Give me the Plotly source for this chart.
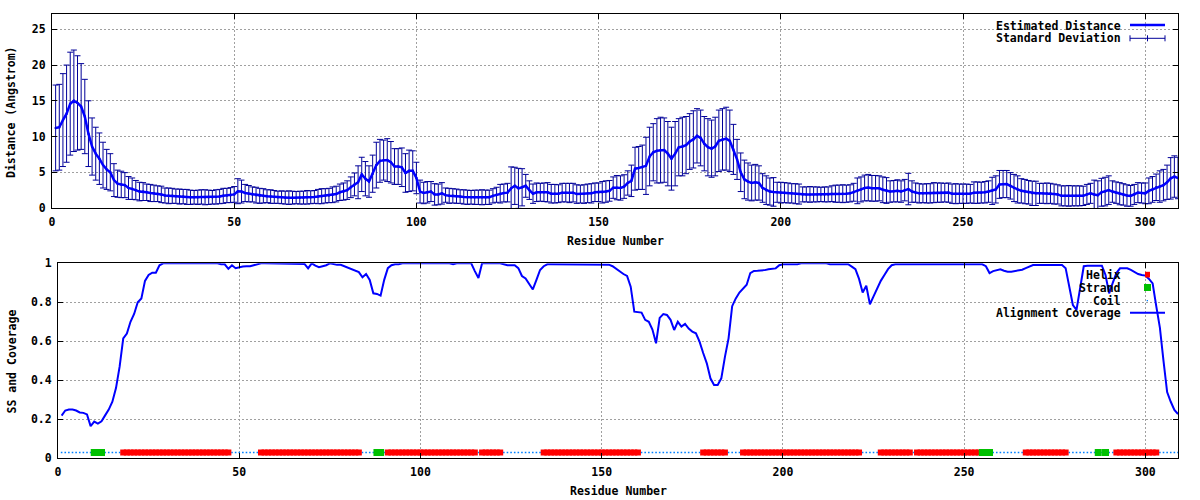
import plotly.graph_objects as go

# ---------------- data ----------------
residues = list(range(1, 310))

distance = [
    11.2, 11.3, 12.3, 13.2, 14.6, 15.0, 14.7, 14.2, 12.8, 10.4,
    8.6, 7.6, 6.9, 6.0, 5.4, 5.0, 3.9, 3.4, 3.3, 3.2,
    2.8, 2.7, 2.5, 2.3, 2.3, 2.2, 2.1, 2.05, 2.0, 1.9,
    1.75, 1.7, 1.7, 1.65, 1.6, 1.6, 1.55, 1.5, 1.5, 1.5,
    1.55, 1.5, 1.5, 1.5, 1.55, 1.6, 1.7, 1.75, 1.8, 1.9,
    2.35, 2.3, 2.1, 2.0, 1.9, 1.8, 1.7, 1.7, 1.65, 1.6,
    1.55, 1.5, 1.5, 1.45, 1.45, 1.45, 1.45, 1.45, 1.45, 1.5,
    1.5, 1.55, 1.6, 1.65, 1.7, 1.75, 1.85, 1.95, 2.2, 2.3,
    2.5, 2.9, 3.3, 3.6, 4.7, 4.1, 3.7, 4.8, 6.0, 6.6,
    6.7, 6.7, 6.4, 5.8, 5.8, 5.7, 4.9, 5.2, 5.2, 4.2,
    2.3, 2.1, 2.2, 2.3, 1.9, 1.9, 2.05, 1.8, 1.7, 1.7,
    1.65, 1.6, 1.55, 1.5, 1.5, 1.5, 1.5, 1.5, 1.5, 1.5,
    1.7, 1.85, 2.0, 2.1, 2.15, 2.75, 3.1, 2.75, 2.9, 3.1,
    2.5, 2.0, 2.2, 2.2, 2.2, 2.2, 2.0, 2.0, 2.0, 2.15,
    2.15, 2.1, 2.15, 1.95, 1.95, 1.95, 2.05, 2.05, 2.2, 2.2,
    2.2, 2.3, 2.4, 2.85, 2.85, 2.8, 3.0, 3.5, 3.8, 5.5,
    5.6, 5.7, 5.9, 7.2, 7.8, 8.0, 8.1, 8.1, 7.6, 6.9,
    7.6, 8.5, 8.6, 8.8, 9.3, 9.6, 10.1, 9.8, 9.0, 8.5,
    8.3, 8.6, 9.4, 9.6, 9.7, 9.4, 8.2, 6.8, 5.0, 4.0,
    3.7, 3.5, 3.6, 3.5, 2.8, 2.5, 2.3, 2.25, 2.2, 2.15,
    2.15, 2.1, 2.05, 2.0, 1.95, 1.9, 1.9, 1.9, 1.9, 1.9,
    1.9, 1.9, 1.9, 2.0, 2.0, 2.0, 2.0, 2.0, 2.05, 2.2,
    2.4, 2.6, 2.8, 2.85, 2.75, 2.75, 2.75, 2.55, 2.45, 2.3,
    2.35, 2.4, 2.3, 2.5, 2.65, 2.3, 2.15, 2.05, 2.05, 2.05,
    2.05, 2.15, 2.15, 2.15, 2.15, 2.15, 2.0, 2.0, 2.0, 2.0,
    2.0, 2.0, 2.15, 2.15, 2.15, 2.2, 2.3, 2.4, 2.6, 3.3,
    3.35, 3.35, 3.1, 2.8, 2.6, 2.4, 2.3, 2.2, 2.05, 2.05,
    2.05, 2.05, 2.05, 2.05, 1.95, 1.9, 1.7, 1.7, 1.7, 1.7,
    1.7, 1.7, 1.7, 1.9, 2.05, 1.9, 1.8, 2.2, 2.3, 2.5,
    2.3, 2.15, 2.0, 1.9, 1.75, 1.7, 1.9, 2.15, 2.1, 2.05,
    2.4, 2.6, 2.9, 3.0, 3.2, 3.6, 4.15, 4.4, 4.2,
]

std_dev = [
    6.0, 6.0, 6.5, 6.8, 7.2, 7.1, 6.6, 6.0, 5.2, 4.6,
    4.0, 3.7, 3.6, 3.2, 2.8, 2.6, 2.3, 1.9, 1.85, 1.75,
    1.6, 1.5, 1.35, 1.3, 1.25, 1.15, 1.2, 1.15, 1.1, 1.15,
    1.05, 1.1, 1.05, 1.0, 1.05, 1.0, 1.05, 1.0, 0.95, 1.0,
    1.0, 1.05, 1.0, 0.95, 1.0, 1.0, 1.05, 1.0, 1.05, 1.1,
    1.75, 1.6, 1.2, 1.15, 1.05, 1.1, 1.05, 1.0, 0.9, 0.95,
    0.9, 0.85, 0.9, 0.9, 0.95, 0.9, 0.85, 0.9, 0.9, 0.95,
    0.9, 0.9, 1.0, 1.05, 1.0, 1.0, 1.1, 1.1, 1.15, 1.2,
    1.3, 1.45, 1.6, 2.3, 2.4, 2.4, 2.2, 2.6, 3.2, 3.0,
    2.8, 3.0, 2.9, 2.5, 2.5, 2.7, 2.7, 2.9, 2.8, 2.2,
    1.6, 1.5, 1.5, 1.4, 1.5, 1.45, 1.5, 1.0, 1.05, 1.0,
    1.0, 0.95, 1.0, 1.0, 0.95, 1.0, 1.0, 1.05, 1.0, 1.0,
    1.0, 1.05, 1.3, 1.25, 1.3, 3.0, 2.6, 2.8, 2.6, 1.6,
    1.3, 1.35, 1.3, 1.25, 1.3, 1.35, 1.3, 1.3, 1.25, 1.3,
    1.3, 1.35, 1.3, 1.3, 1.25, 1.3, 1.3, 1.35, 1.3, 1.3,
    1.5, 1.5, 1.45, 1.5, 1.7, 1.7, 1.65, 1.7, 2.2, 3.0,
    3.0, 3.1, 4.0, 4.1, 4.0, 4.5, 4.6, 4.5, 4.5, 4.4,
    4.5, 4.0, 4.1, 4.0, 3.9, 4.0, 3.8, 3.9, 3.8, 4.0,
    4.0, 4.1, 4.3, 4.3, 4.4, 4.3, 3.5, 2.8, 2.7, 2.7,
    2.6, 2.5, 2.5, 2.4, 2.0, 2.0, 1.9, 2.0, 1.4, 1.45,
    1.4, 1.4, 1.35, 1.4, 1.4, 1.05, 1.05, 1.1, 1.05, 1.05,
    1.0, 1.05, 1.05, 1.1, 1.2, 1.2, 1.25, 1.2, 1.2, 1.25,
    1.8, 1.75, 1.8, 1.85, 1.8, 1.8, 1.75, 1.8, 1.8, 1.5,
    1.5, 1.55, 1.5, 1.5, 2.2, 1.5, 1.35, 1.35, 1.3, 1.35,
    1.35, 1.4, 1.35, 1.35, 1.3, 1.35, 1.35, 1.4, 1.35, 1.35,
    1.35, 1.3, 1.5, 1.5, 1.45, 1.5, 1.5, 1.9, 1.9, 1.95,
    1.9, 1.9, 1.85, 1.9, 1.9, 1.7, 1.7, 1.65, 1.7, 1.7,
    1.4, 1.4, 1.45, 1.4, 1.4, 1.35, 1.4, 1.4, 1.45, 1.4,
    1.4, 1.4, 1.35, 1.4, 1.4, 2.0, 2.0, 1.95, 2.0, 2.0,
    1.5, 1.5, 1.55, 1.5, 1.5, 1.45, 1.4, 1.4, 1.4, 1.45,
    1.8, 1.8, 1.85, 2.2, 2.2, 2.4, 2.9, 2.9, 2.9,
]

coverage = [
    0.219, 0.245, 0.25, 0.25, 0.245, 0.235, 0.233, 0.225, 0.165, 0.188,
    0.178, 0.19, 0.22, 0.25, 0.29, 0.36, 0.47, 0.615, 0.64, 0.70,
    0.74, 0.80, 0.82, 0.91, 0.94, 0.952, 0.952, 0.99, 1.0, 1.0,
    1.0, 1.0, 1.0, 1.0, 1.0, 1.0, 1.0, 1.0, 1.0, 1.0,
    1.0, 1.0, 1.0, 1.0, 0.995, 0.995, 0.972, 0.99, 0.975, 0.98,
    0.983, 0.985, 0.985, 0.99, 0.995, 1.0, 1.0, 1.0, 1.0, 1.0,
    1.0, 1.0, 1.0, 1.0, 1.0, 1.0, 1.0, 0.997, 0.974, 1.0,
    0.988, 0.98, 0.985, 0.99, 1.0, 0.995, 0.992, 0.992, 0.985, 0.975,
    0.972, 0.965, 0.955, 0.928, 0.945, 0.915, 0.846, 0.843, 0.834, 0.915,
    0.975, 0.99, 0.995, 0.995, 1.0, 1.0, 1.0, 1.0, 1.0, 1.0,
    1.0, 1.0, 1.0, 1.0, 1.0, 1.0, 1.0, 1.0, 0.995, 1.0,
    1.0, 1.0, 1.0, 1.0, 0.96, 0.925, 1.0, 1.0, 1.0, 1.0,
    1.0, 1.0, 0.995, 0.99, 0.99, 0.99, 0.975, 0.935, 0.922, 0.895,
    0.866, 0.915, 0.966, 0.985, 0.995, 0.995, 0.995, 0.995, 0.995, 0.995,
    0.995, 0.995, 0.995, 0.995, 0.995, 0.995, 0.995, 0.995, 0.995, 0.995,
    0.995, 0.993, 0.985, 0.97, 0.957, 0.945, 0.935, 0.88, 0.752, 0.748,
    0.747, 0.71, 0.70, 0.66, 0.59, 0.72, 0.74, 0.735, 0.71, 0.658,
    0.70, 0.675, 0.689, 0.665, 0.65, 0.641, 0.598, 0.54, 0.487, 0.41,
    0.376, 0.376, 0.41, 0.52, 0.615, 0.78, 0.82, 0.85, 0.872, 0.89,
    0.95, 0.961, 0.962, 0.962, 0.965, 0.969, 0.97, 0.974, 0.99, 0.995,
    0.995, 0.995, 0.995, 0.995, 1.0, 1.0, 1.0, 1.0, 1.0, 1.0,
    1.0, 1.0, 0.995, 0.995, 0.995, 0.995, 0.995, 0.995, 0.983, 0.97,
    0.92, 0.85, 0.885, 0.79, 0.83, 0.87, 0.91, 0.94, 0.97, 0.99,
    0.995, 0.995, 0.995, 0.995, 0.995, 0.995, 0.995, 0.995, 0.995, 0.995,
    0.995, 0.995, 0.995, 0.995, 0.995, 0.995, 0.995, 0.995, 0.995, 0.995,
    0.995, 0.995, 0.995, 0.995, 0.995, 0.985, 0.95, 0.96, 0.965, 0.969,
    0.962, 0.957, 0.957, 0.96, 0.962, 0.967, 0.975, 0.985, 0.991, 0.991,
    0.991, 0.991, 0.991, 0.991, 0.991, 0.991, 0.991, 0.975, 0.88, 0.786,
    0.761, 0.87, 0.985, 0.988, 0.988, 0.988, 0.988, 0.988, 0.94, 0.846,
    0.9, 0.95, 0.974, 0.974, 0.974, 0.966, 0.955, 0.945, 0.94, 0.937,
    0.92, 0.897, 0.78, 0.67, 0.5, 0.34, 0.29, 0.248, 0.227,
]

# secondary structure per residue, run-length encoded (H helix, E strand, C coil)
ss_runs = [
    ("C", 9), ("E", 3), ("C", 5), ("H", 30), ("C", 8), ("H", 28), ("C", 4),
    ("E", 2), ("C", 1), ("H", 25), ("C", 1), ("H", 6), ("C", 11), ("H", 27),
    ("C", 17), ("H", 7), ("C", 4), ("H", 33), ("C", 5), ("H", 9), ("C", 1),
    ("H", 18), ("E", 3), ("C", 9), ("H", 12), ("C", 8), ("E", 1), ("C", 1),
    ("E", 1), ("C", 2), ("H", 12), ("C", 6),
]
ss_level = 0.03

x_ticks = [0, 50, 100, 150, 200, 250, 300]
dist_ticks = [0, 5, 10, 15, 20, 25]
cov_ticks = [0, 0.2, 0.4, 0.6, 0.8, 1]
cov_tick_text = ["0", "0.2", "0.4", "0.6", "0.8", "1"]

# ---------------- figure ----------------
ss_string = "".join(c * n for c, n in ss_runs)
helix_x = [r for r, s in zip(residues, ss_string) if s == "H"]
strand_x = [r for r, s in zip(residues, ss_string) if s == "E"]
coil_x = [r for r, s in zip(residues, ss_string) if s == "C"]

W, H = 1200, 500
def px(v):
    return v / W
def py(v):
    return 1 - v / H

FONT = "DejaVu Sans Mono"
tickfont = dict(family=FONT, size=11.5, color="black", weight="bold")
ERR_C = "#000099"
BLUE = "#0000ff"

fig = go.Figure()
fig.add_trace(go.Scatter(
    x=residues, y=distance, mode="markers",
    marker=dict(size=2, color=ERR_C, symbol="square"),
    error_y=dict(type="data", array=std_dev, visible=True, color=ERR_C,
                 thickness=1, width=3),
    xaxis="x", yaxis="y", hoverinfo="skip"))
fig.add_trace(go.Scatter(
    x=residues, y=distance, mode="lines",
    line=dict(color=BLUE, width=2.5), xaxis="x", yaxis="y"))

fig.add_trace(go.Scatter(
    x=coil_x, y=[ss_level] * len(coil_x), mode="markers",
    marker=dict(symbol="square", size=1.6, color="#0080ff", line=dict(width=0)),
    xaxis="x2", yaxis="y2"))
fig.add_trace(go.Scatter(
    x=helix_x, y=[ss_level] * len(helix_x), mode="markers",
    marker=dict(symbol="square", size=6, color="#ff0000", line=dict(width=0)),
    xaxis="x2", yaxis="y2"))
fig.add_trace(go.Scatter(
    x=strand_x, y=[ss_level] * len(strand_x), mode="markers",
    marker=dict(symbol="square", size=7, color="#00c000", line=dict(width=0)),
    xaxis="x2", yaxis="y2"))
fig.add_trace(go.Scatter(
    x=residues, y=coverage, mode="lines",
    line=dict(color=BLUE, width=2), xaxis="x2", yaxis="y2"))

axis_common = dict(
    showline=True, linecolor="black", linewidth=1, mirror="ticks",
    ticks="inside", ticklen=5, tickcolor="black", tickwidth=1,
    showgrid=True, gridcolor="#a0a0a0", griddash="2px,2px", gridwidth=1,
    zeroline=False, tickfont=tickfont, automargin=False,
)

fig.update_layout(
    width=W, height=H,
    margin=dict(l=0, r=0, t=0, b=0),
    paper_bgcolor="white", plot_bgcolor="white",
    showlegend=False,
    xaxis=dict(axis_common, domain=[px(52), px(1178)], range=[0, 309],
               tickvals=x_ticks, anchor="y", ticklabelstandoff=3),
    yaxis=dict(axis_common, domain=[py(208), py(14.3)], range=[0, 27.1],
               tickvals=dist_ticks, anchor="x", ticklabelstandoff=3),
    xaxis2=dict(axis_common, domain=[px(58), px(1178)], range=[0, 309],
                tickvals=x_ticks, anchor="y2", ticklabelstandoff=3),
    yaxis2=dict(axis_common, domain=[py(458.3), py(263.3)], range=[0, 1],
                tickvals=cov_ticks, ticktext=cov_tick_text, anchor="x2",
                ticklabelstandoff=3),
)

lab = dict(family=FONT, size=11.5, color="black", weight="bold")
annotations = [
    dict(text="Distance (Angstrom)", x=px(11), y=py(112), textangle=-90),
    dict(text="Residue Number", x=px(615), y=py(240.7)),
    dict(text="SS and Coverage", x=px(11), y=py(361.5), textangle=-90),
    dict(text="Residue Number", x=px(618), y=py(490.7)),
]
for a in annotations:
    a.update(xref="paper", yref="paper", showarrow=False, font=lab,
             xanchor="center", yanchor="middle")

legend_rows = [
    ("Estimated Distance", 25.7), ("Standard Deviation", 38.3),
    ("Helix", 275), ("Strand", 287.7), ("Coil", 300.7),
    ("Alignment Coverage", 313.3),
]
for txt, yy in legend_rows:
    annotations.append(dict(text=txt, x=px(1123), y=py(yy), xref="paper",
                            yref="paper", showarrow=False, font=lab,
                            xanchor="right", yanchor="middle"))
fig.update_layout(annotations=annotations)

shapes = [
    # clear the grid behind the key areas
    dict(type="rect", x0=px(995), x1=px(1172), y0=py(45), y1=py(16),
         fillcolor="white", line=dict(width=0), layer="between"),
    dict(type="rect", x0=px(995), x1=px(1172), y0=py(320), y1=py(265),
         fillcolor="white", line=dict(width=0), layer="between"),
    # key samples
    dict(type="line", x0=px(1130), x1=px(1165), y0=py(25), y1=py(25),
         line=dict(color=BLUE, width=2.5)),
    dict(type="line", x0=px(1130), x1=px(1165), y0=py(38.3), y1=py(38.3),
         line=dict(color=ERR_C, width=1)),
    dict(type="line", x0=px(1130), x1=px(1130), y0=py(35.3), y1=py(41.3),
         line=dict(color=ERR_C, width=1)),
    dict(type="line", x0=px(1165), x1=px(1165), y0=py(35.3), y1=py(41.3),
         line=dict(color=ERR_C, width=1)),
    dict(type="line", x0=px(1147.5), x1=px(1147.5), y0=py(35.3), y1=py(41.3),
         line=dict(color=ERR_C, width=1)),
    dict(type="rect", x0=px(1145), x1=px(1150), y0=py(277.5), y1=py(271.8),
         fillcolor="#ff0000", line=dict(width=0)),
    dict(type="rect", x0=px(1144), x1=px(1151), y0=py(291), y1=py(284),
         fillcolor="#00c000", line=dict(width=0)),
    dict(type="rect", x0=px(1146.7), x1=px(1148), y0=py(301.3), y1=py(300),
         fillcolor="#0080ff", line=dict(width=0)),
    dict(type="line", x0=px(1130), x1=px(1165), y0=py(312.8), y1=py(312.8),
         line=dict(color=BLUE, width=2)),
]
for s in shapes:
    s.update(xref="paper", yref="paper")
fig.update_layout(shapes=shapes)

fig.write_html(
    "out.html",
    config={"displayModeBar": False},
    post_script="document.body.style.margin='0px';document.body.style.padding='0px';",
)
